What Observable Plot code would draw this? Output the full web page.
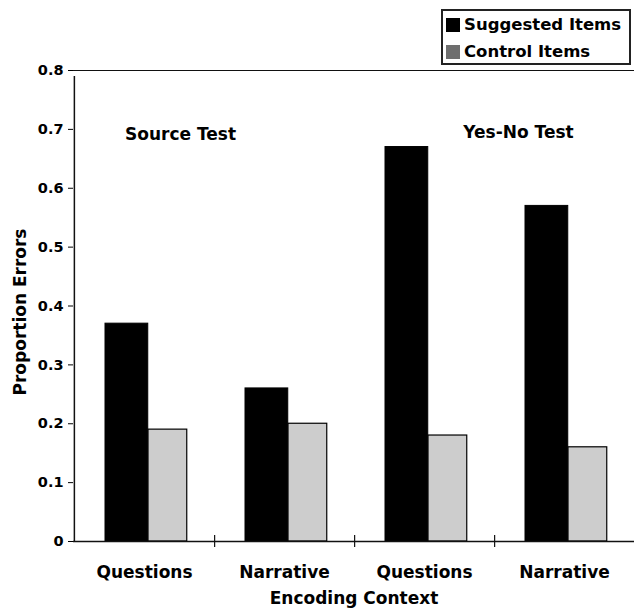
<!DOCTYPE html>
<html><head><meta charset="utf-8">
<script src="https://cdn.jsdelivr.net/npm/d3@7"></script>
<script src="https://cdn.jsdelivr.net/npm/@observablehq/plot@0.6"></script>
<style>
body{margin:0;background:#fff;}
#wrap{position:relative;width:634px;height:613px;font-family:"DejaVu Sans",sans-serif;font-weight:bold;color:#000;}
#legend{position:absolute;left:441px;top:9px;width:186px;height:52px;border:2px solid #222;background:#fff;font-size:16.5px;}
#legend .row{position:absolute;left:3px;display:flex;align-items:center;white-space:nowrap;}
#legend .sw{display:inline-block;width:14px;height:14px;margin-right:4px;}
</style></head><body><div id="wrap"><div id="legend"></div></div>
<script>
const tests = ["Source Test", "Source Test", "Yes-No Test", "Yes-No Test"];
const contexts = ["Questions", "Narrative", "Questions", "Narrative"];
const suggested = [0.37, 0.26, 0.67, 0.57];
const control = [0.19, 0.20, 0.18, 0.16];
const seriesNames = ["Suggested Items", "Control Items"];
const seriesFills = ["#000000", "#cdcdcd"];
const legendSwatches = ["#000000", "#6e6e6e"];
const yTicks = [0, 0.1, 0.2, 0.3, 0.4, 0.5, 0.6, 0.7, 0.8];
const yTitle = "Proportion Errors";
const xTitle = "Encoding Context";
const annotationTexts = ["Source Test", "Yes-No Test"];
const annotationAt = [0, 2];

const W = 634, H = 613, ML = 73, MR = 0, MT = 70, MB = 72;
const keys = tests.map((t, i) => t + "|" + contexts[i]);
const bw = (W - ML - MR) / keys.length;
const rows = keys.map((k, i) => ({key: k, s: suggested[i], c: control[i]}));
const font = "DejaVu Sans";
const annOffsets = [[36, 57], [94, 55]];

const chart = Plot.plot({
  width: W, height: H,
  marginLeft: ML, marginRight: MR, marginTop: MT, marginBottom: MB,
  style: {fontFamily: font, fontWeight: "bold", color: "#000", background: "transparent", overflow: "visible"},
  x: {domain: keys, padding: 0, axis: null},
  y: {domain: [0, 0.8], axis: null},
  marks: [
    Plot.barY(rows, {x: "key", y: "s", fill: seriesFills[0], stroke: "#000", strokeWidth: 1, insetLeft: 31, insetRight: bw - 74}),
    Plot.barY(rows, {x: "key", y: "c", fill: seriesFills[1], stroke: "#000", strokeWidth: 1.2, insetLeft: 74, insetRight: bw - 113}),
    Plot.ruleY([0.8], {stroke: "#111", strokeWidth: 1.2}),
    Plot.ruleY([0], {stroke: "#111", strokeWidth: 1.5}),
    Plot.ruleX([keys[0]], {x: d => d, dx: -bw / 2, y1: 0, y2: 0.8, insetBottom: -6, stroke: "#111", strokeWidth: 1.5}),
    Plot.ruleX(keys, {x: d => d, dx: bw / 2, y1: 0, y2: 0, insetTop: -6, insetBottom: -6, stroke: "#111", strokeWidth: 1.2}),
    Plot.axisY({ticks: yTicks, tickSize: 5, tickPadding: 5, fontSize: 14.5, label: null,
      tickFormat: d => d === 0 ? "0" : d.toFixed(1)}),
    Plot.axisX({tickSize: 0, tickPadding: 24, fontSize: 17, label: null,
      tickFormat: k => k.split("|")[1]}),
    Plot.text([xTitle], {frameAnchor: "bottom", dy: 62, fontSize: 17, text: d => d}),
    Plot.text([yTitle], {frameAnchor: "left", textAnchor: "middle", dx: -53, dy: 6, rotate: -90, fontSize: 17, text: d => d}),
    ...annotationTexts.map((t, i) => Plot.text([t], {x: () => keys[annotationAt[i]], frameAnchor: "top",
      dx: annOffsets[i][0], dy: annOffsets[i][1], text: d => d, fontSize: 17}))
  ]
});
document.getElementById("wrap").appendChild(chart);
chart.style.position = "absolute"; chart.style.left = "0"; chart.style.top = "0";

const legend = document.getElementById("legend");
legend.style.zIndex = 2;
seriesNames.forEach((name, i) => {
  const row = document.createElement("div");
  row.className = "row";
  row.style.top = (i === 0 ? 4 : 31) + "px";
  const sw = document.createElement("span");
  sw.className = "sw"; sw.style.background = legendSwatches[i];
  row.appendChild(sw);
  row.appendChild(document.createTextNode(name));
  legend.appendChild(row);
});
</script></body></html>
